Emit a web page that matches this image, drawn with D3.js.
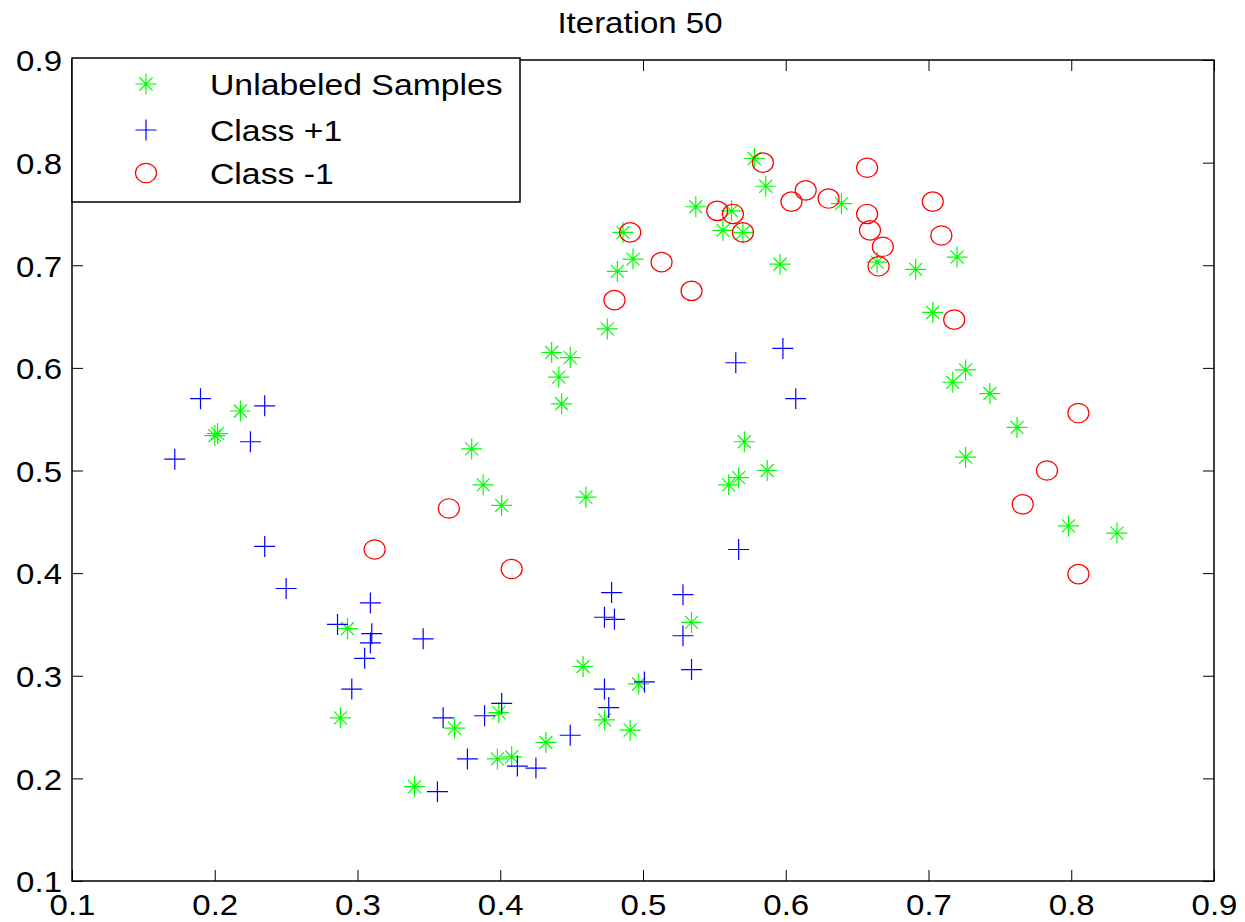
<!DOCTYPE html>
<html>
<head>
<meta charset="utf-8">
<script src="https://cdn.jsdelivr.net/npm/d3@7"></script>
<style>
    body { margin: 0; background: #fff; }
    text { font-family: "Liberation Sans", Arial, sans-serif; }
</style>
</head>
<body>
<div id="chart"></div>
<script>
// unlabeled samples (green stars)
const unlabeled = [
    [0.218,0.558],[0.200,0.534],[0.202,0.536],[0.380,0.521],[0.388,0.486],[0.401,0.466],
    [0.293,0.346],[0.288,0.259],[0.368,0.249],[0.399,0.264],[0.432,0.235],[0.398,0.219],
    [0.408,0.221],[0.340,0.192],[0.578,0.804],[0.586,0.777],[0.537,0.757],[0.562,0.753],
    [0.486,0.732],[0.556,0.734],[0.570,0.732],[0.493,0.706],[0.482,0.694],[0.596,0.701],
    [0.475,0.638],[0.436,0.615],[0.449,0.610],[0.441,0.591],[0.443,0.565],[0.571,0.528],
    [0.587,0.500],[0.567,0.493],[0.560,0.486],[0.460,0.474],[0.639,0.760],[0.664,0.703],
    [0.720,0.708],[0.691,0.696],[0.703,0.654],[0.726,0.598],[0.717,0.586],[0.743,0.575],
    [0.762,0.542],[0.726,0.513],[0.798,0.446],[0.832,0.439],[0.534,0.352],[0.458,0.309],
    [0.497,0.292],[0.473,0.257],[0.491,0.247]
];

// class +1 (blue plus)
const classPos = [
    [0.190,0.570],[0.235,0.563],[0.225,0.528],[0.172,0.511],[0.235,0.426],[0.250,0.385],
    [0.309,0.371],[0.286,0.350],[0.310,0.341],[0.309,0.332],[0.305,0.317],[0.346,0.336],
    [0.296,0.287],[0.360,0.259],[0.389,0.261],[0.401,0.273],[0.377,0.219],[0.412,0.212],
    [0.425,0.210],[0.356,0.187],[0.598,0.619],[0.565,0.605],[0.607,0.570],[0.567,0.423],
    [0.478,0.381],[0.528,0.379],[0.473,0.357],[0.480,0.355],[0.528,0.339],[0.534,0.306],
    [0.473,0.287],[0.501,0.294],[0.476,0.269],[0.449,0.242]
];

// class -1 (red circles)
const classNeg = [
    [0.584,0.800],[0.614,0.773],[0.604,0.762],[0.630,0.765],[0.657,0.795],[0.552,0.753],
    [0.563,0.750],[0.491,0.732],[0.570,0.732],[0.513,0.703],[0.480,0.666],[0.534,0.675],
    [0.703,0.762],[0.657,0.750],[0.659,0.734],[0.709,0.729],[0.668,0.718],[0.665,0.699],
    [0.718,0.647],[0.805,0.556],[0.783,0.500],[0.766,0.467],[0.805,0.399],[0.364,0.463],
    [0.312,0.423],[0.408,0.404]
];

const xTicks = [0.1, 0.2, 0.3, 0.4, 0.5, 0.6, 0.7, 0.8, 0.9];
const yTicks = [0.1, 0.2, 0.3, 0.4, 0.5, 0.6, 0.7, 0.8, 0.9];

const legendLabels = ["Unlabeled Samples", "Class +1", "Class -1"];

const width = 1245,
    height = 922;
const margin = {left: 72, right: 1214, top: 60, bottom: 881};

const svg = d3.select("#chart")
    .append("svg")
    .attr("width", width)
    .attr("height", height)
    .attr("viewBox", [0, 0, width, height]);

const x = d3.scaleLinear().domain([0.1, 0.9]).range([margin.left, margin.right]);
const y = d3.scaleLinear().domain([0.1, 0.9]).range([margin.bottom, margin.top]);

// text in the picture is a bit wider than Liberation Sans
function stretch(sel, k = 1.1) {
    sel.each(function() {
        const w = this.getComputedTextLength();
        d3.select(this)
            .attr("textLength", w * k)
            .attr("lengthAdjust", "spacingAndGlyphs");
    });
}

// axes, ticks pointing inward on all four sides
const tick = 11;
const gx = svg.append("g")
    .attr("transform", `translate(0,${margin.bottom})`)
    .call(d3.axisBottom(x).tickValues(xTicks).tickSize(-tick).tickSizeOuter(0)
        .tickPadding(34).tickFormat(d3.format(".1f")));
const gy = svg.append("g")
    .attr("transform", `translate(${margin.left},0)`)
    .call(d3.axisLeft(y).tickValues(yTicks).tickSize(-tick).tickSizeOuter(0)
        .tickPadding(10).tickFormat(d3.format(".1f")));
const gt = svg.append("g")
    .attr("transform", `translate(0,${margin.top})`)
    .call(d3.axisTop(x).tickValues(xTicks).tickSize(-tick).tickSizeOuter(0).tickFormat(""));
const gr = svg.append("g")
    .attr("transform", `translate(${margin.right},0)`)
    .call(d3.axisRight(y).tickValues(yTicks).tickSize(-tick).tickSizeOuter(0).tickFormat(""));

[gx, gy, gt, gr].forEach(g => {
    g.select(".domain").remove();
    g.selectAll("line").attr("stroke", "#000").attr("stroke-width", 1);
    g.selectAll("text")
        .attr("font-family", "Liberation Sans, Arial, sans-serif")
        .attr("font-size", 30)
        .attr("fill", "#000");
});
gx.selectAll("text").attr("dy", 0);
gy.selectAll("text").attr("dy", "0.36em");
gx.selectAll("text").call(stretch);
gy.selectAll("text").call(stretch);

svg.append("rect")
    .attr("x", margin.left)
    .attr("y", margin.top)
    .attr("width", margin.right - margin.left)
    .attr("height", margin.bottom - margin.top)
    .attr("fill", "none")
    .attr("stroke", "#000")
    .attr("stroke-width", 1.5);

// markers
const starPath = "M-10.5,0H10.5M0,-10.5V10.5M-6.5,-6.5L6.5,6.5M-6.5,6.5L6.5,-6.5";
const plusPath = "M-10.5,0H10.5M0,-10.5V10.5";

svg.selectAll(".unlabeled")
    .data(unlabeled)
    .enter().append("path")
    .attr("class", "unlabeled")
    .attr("d", starPath)
    .attr("transform", d => `translate(${x(d[0])},${y(d[1])})`)
    .attr("stroke", "#00ff00")
    .attr("stroke-width", 1.2)
    .attr("fill", "none");

svg.selectAll(".pos")
    .data(classPos)
    .enter().append("path")
    .attr("class", "pos")
    .attr("d", plusPath)
    .attr("transform", d => `translate(${x(d[0])},${y(d[1])})`)
    .attr("stroke", "#0000ff")
    .attr("stroke-width", 1.2)
    .attr("fill", "none");

svg.selectAll(".neg")
    .data(classNeg)
    .enter().append("ellipse")
    .attr("class", "neg")
    .attr("cx", d => x(d[0]))
    .attr("cy", d => y(d[1]))
    .attr("rx", 10.5)
    .attr("ry", 9.7)
    .attr("stroke", "#ff0000")
    .attr("stroke-width", 1.2)
    .attr("fill", "none");

// title
svg.append("text")
    .attr("x", (margin.left + margin.right) / 2 - 3)
    .attr("y", 33)
    .attr("text-anchor", "middle")
    .attr("font-size", 30)
    .text("Iteration 50")
    .call(stretch);

// legend
const legend = svg.append("g");
legend.append("rect")
    .attr("x", 72)
    .attr("y", 58)
    .attr("width", 448)
    .attr("height", 144)
    .attr("fill", "#fff")
    .attr("stroke", "#000")
    .attr("stroke-width", 1.5);

const rowY = [84, 130, 173];
const markerX = 146;
legend.append("path")
    .attr("d", starPath)
    .attr("transform", `translate(${markerX},${rowY[0]})`)
    .attr("stroke", "#00ff00").attr("stroke-width", 1.2).attr("fill", "none");
legend.append("path")
    .attr("d", plusPath)
    .attr("transform", `translate(${markerX},${rowY[1]})`)
    .attr("stroke", "#0000ff").attr("stroke-width", 1.2).attr("fill", "none");
legend.append("ellipse")
    .attr("cx", markerX).attr("cy", rowY[2])
    .attr("rx", 10.5).attr("ry", 9.7)
    .attr("stroke", "#ff0000").attr("stroke-width", 1.2).attr("fill", "none");

legend.selectAll(".legend-text")
    .data(legendLabels)
    .enter().append("text")
    .attr("class", "legend-text")
    .attr("x", 210)
    .attr("y", (d, i) => rowY[i] + 11)
    .attr("font-size", 30)
    .text(d => d)
    .call(stretch, 1.125);
</script>
</body>
</html>
